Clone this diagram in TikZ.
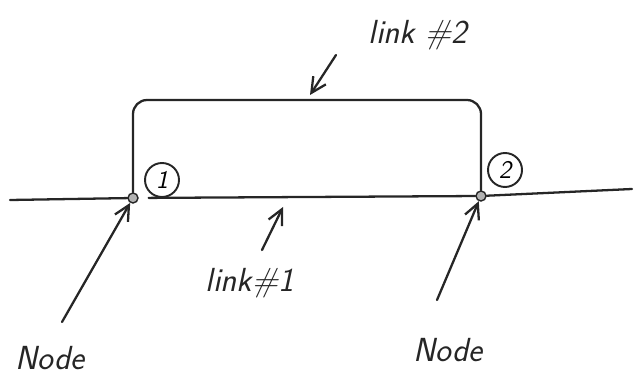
\documentclass[tikz,border=0pt]{standalone}
\usetikzlibrary{arrows.meta}
\begin{document}
\begin{tikzpicture}[
    line/.style={line width=1.3pt, color=black!85, line cap=round},
    dot/.style={circle, draw=black!85, fill=gray!60, line width=0.8pt, inner sep=0pt, minimum size=0.2cm},
    num/.style={circle, draw=black!85, line width=1.1pt, inner sep=1pt, minimum size=0.68cm, font=\sffamily\itshape\Large},
    hand/.style={font=\fontsize{19}{22}\selectfont\sffamily\itshape, color=black!85},
    arrow/.style={line, ->, >={Straight Barb[length=3mm, width=3mm]}}
]
\useasboundingbox (0, 0) rectangle (12.74, -7.66);

% Base line with two nodes
\coordinate (lend) at (0.2, -4.0);
\coordinate (rend) at (12.64, -3.78);
\node[dot] (n1) at (2.66, -3.96) {};
\node[dot] (n2) at (9.62, -3.92) {};
\draw[line] (lend) -- (n1);
\draw[line] (n2) -- (rend);

% Link #1: direct
\draw[line, shorten <=0.2cm] (n1) -- (n2);

% Link #2: bracket over the top
\coordinate (top) at (6.0, -2.0);
\draw[line, rounded corners=8pt] (n1) -- (n1 |- top) -- (n2 |- top) -- (n2);

% Node numbers
\node[num] (c1) at (3.24, -3.6) {1};
\node[num] (c2) at (10.1, -3.4) {2};

% Labels and pointers
\node[hand] (lab2) at (8.36, -0.7) {link \#2};
\coordinate (tail2) at (6.72, -1.1);
\coordinate (head2) at (6.2, -1.9);
\draw[arrow] (tail2) -- (head2);

\node[hand] (lab1) at (5.0, -5.66) {link\#1};
\coordinate (tail1) at (5.24, -5.0);
\coordinate (head1) at (5.66, -4.14);
\draw[arrow] (tail1) -- (head1);

\node[hand] (nl) at (1.0, -7.16) {Node};
\coordinate (tailL) at (1.24, -6.44);
\draw[arrow] (tailL) -- (n1);

\node[hand] (nr) at (8.96, -7.0) {Node};
\coordinate (tailR) at (8.74, -6.0);
\draw[arrow] (tailR) -- (n2);

\end{tikzpicture}
\end{document}
